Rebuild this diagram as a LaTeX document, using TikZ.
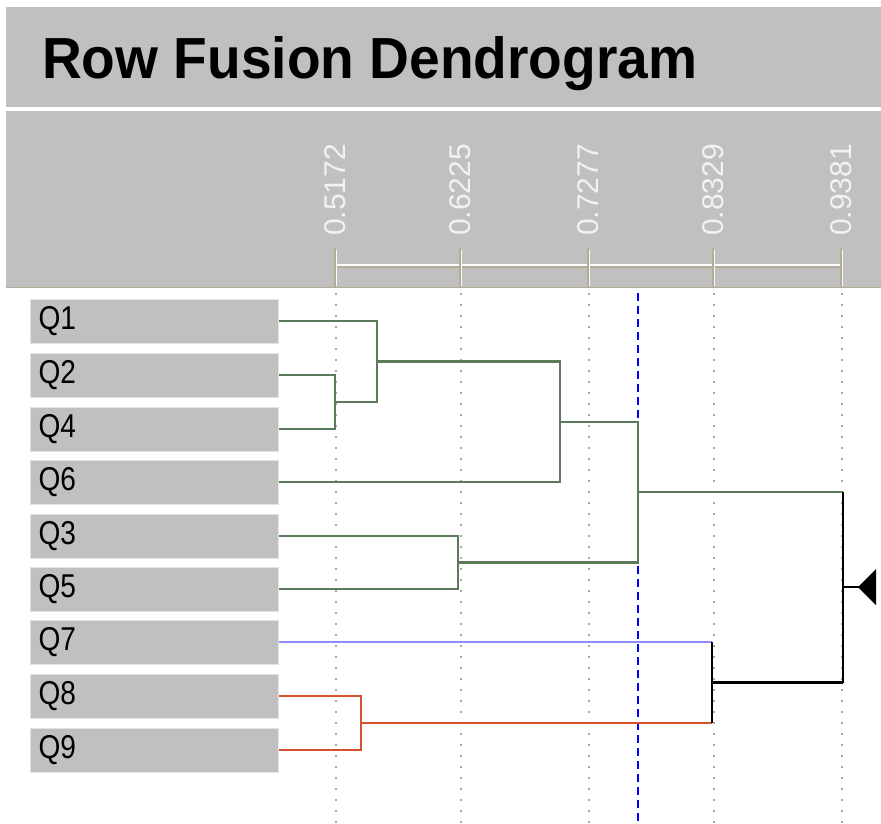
\documentclass[tikz,border=0pt]{standalone}
\usepackage{fontspec}
\usepackage{graphicx}
\setmainfont{Liberation Sans}
\definecolor{bandgray}{HTML}{C0C0C0}
\definecolor{boxedge}{HTML}{E2E2E2}
\definecolor{tanline}{HTML}{B4AC98}
\definecolor{gridgray}{HTML}{A8A8A8}
\definecolor{sage}{HTML}{5B7B5B}
\definecolor{lightblue}{HTML}{8C8CFF}
\definecolor{rust}{HTML}{D2532E}
\definecolor{ticktext}{HTML}{F2F2F2}
\tikzset{
  qbox/.style={fill=bandgray, draw=boxedge, line width=1pt, minimum width=248pt, minimum height=44pt,
    inner sep=0pt, text width=232pt, align=left, font=\fontsize{33}{35}\selectfont},
  ticklabel/.style={rotate=90, anchor=west, inner sep=0pt, text=ticktext, font=\fontsize{30}{32}\selectfont},
  gridline/.style={gridgray, line width=1.2pt, dash pattern=on 1.5pt off 9.5pt},
  cutline/.style={blue, line width=2.2pt, dash pattern=on 8pt off 5pt},
  gline/.style={sage, line width=2.4pt},
  bline/.style={lightblue, line width=2.2pt},
  rline/.style={rust, line width=2.4pt},
  kline/.style={black, line width=2.4pt},
}
\newcommand{\qlab}[1]{\scalebox{0.85}[1]{#1}}
\begin{document}
\begin{tikzpicture}[x=1pt,y=-1pt]
\useasboundingbox (0,0) rectangle (881,823);
\fill[white] (0,0) rectangle (881,823);
% bands
\fill[bandgray] (6,7) rectangle (881,107);
\fill[bandgray] (6,111) rectangle (881,287);
\draw[tanline, line width=1.5pt] (6,287.5) -- (881,287.5);
\node[anchor=base west, inner sep=0pt, font=\bfseries\fontsize{58}{60}\selectfont] (title) at (42,78) {\scalebox{0.95}[1]{Row Fusion Dendrogram}};
% grid
\foreach \gx in {336,461,589,714,842} {
  \draw[gridline] (\gx,293) -- (\gx,823);
}
% axis
\draw[tanline, line width=1.5pt] (336,267) -- (843,267);
\draw[white, line width=1.5pt] (336,265) -- (843,265);
\foreach \gx in {336,461,589,714,842} {
  \draw[tanline, line width=1.5pt] (\gx-0.8,248) -- (\gx-0.8,287);
  \draw[white!90!bandgray, line width=1pt] (\gx+0.5,250) -- (\gx+0.5,286);
}
\node[ticklabel] (t1) at (335,236) {0.5172};
\node[ticklabel] (t2) at (460,236) {0.6225};
\node[ticklabel] (t3) at (588,236) {0.7277};
\node[ticklabel] (t4) at (713,236) {0.8329};
\node[ticklabel] (t5) at (841,236) {0.9381};
% cut line
\draw[cutline] (638,293) -- (638,823);
% boxes
\node[qbox] (q1) at (154.5,321) {\qlab{Q1}};
\node[qbox] (q2) at (154.5,375) {\qlab{Q2}};
\node[qbox] (q4) at (154.5,429) {\qlab{Q4}};
\node[qbox] (q6) at (154.5,482) {\qlab{Q6}};
\node[qbox] (q3) at (154.5,536) {\qlab{Q3}};
\node[qbox] (q5) at (154.5,589) {\qlab{Q5}};
\node[qbox] (q7) at (154.5,642) {\qlab{Q7}};
\node[qbox] (q8) at (154.5,696) {\qlab{Q8}};
\node[qbox] (q9) at (154.5,750) {\qlab{Q9}};
% merge points
\coordinate (m24) at (335,402);
\coordinate (m124) at (377,361.5);
\coordinate (m1246) at (560,421.75);
\coordinate (m35) at (458,562.5);
\coordinate (mg) at (638,492);
\coordinate (m89) at (361,723);
\coordinate (m789) at (712,682.5);
\coordinate (root) at (843,587);
\coordinate (stub) at (862,587);
% tree
\draw[gline] (q2.east) -- (q2.east -| m24) -- (q4.east -| m24) -- (q4.east);
\draw[gline] (q1.east) -- (q1.east -| m124) -- (m24 -| m124) -- (m24);
\draw[gline] (m124) -- (m124 -| m1246) -- (q6.east -| m1246) -- (q6.east);
\draw[gline] (q3.east) -- (q3.east -| m35) -- (q5.east -| m35) -- (q5.east);
\draw[gline] (m1246) -- (m1246 -| mg) -- (m35 -| mg) -- (m35);
\draw[gline] (mg) -- (mg -| root);
\draw[rline] (q8.east) -- (q8.east -| m89) -- (q9.east -| m89) -- (q9.east);
\draw[rline] (m89) -- (m89 -| m789);
\draw[bline] (q7.east) -- (q7.east -| m789);
\draw[kline] (q7.east -| m789) -- (m89 -| m789);
\draw[kline] (m789) -- (m789 -| root);
\draw[kline] (mg -| root) -- (m789 -| root);
\draw[kline] (root) -- (stub);
\fill[black] (858,587) -- (876,569) -- (876,605) -- cycle;
\end{tikzpicture}
\end{document}
